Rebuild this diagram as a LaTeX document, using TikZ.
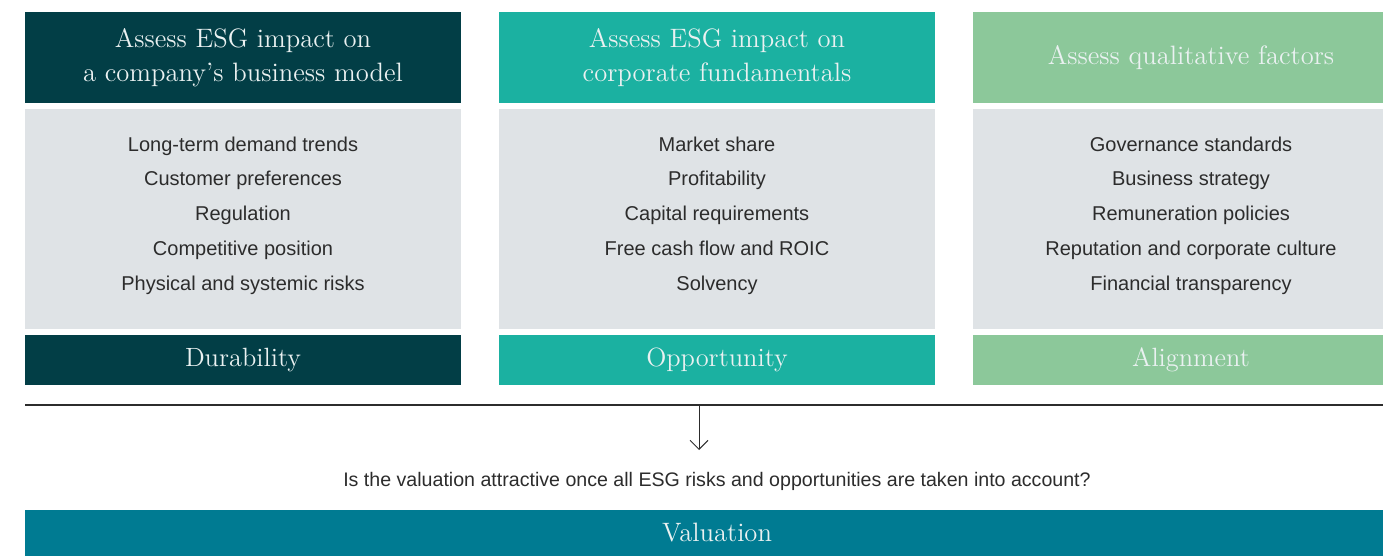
\documentclass[tikz,border=0pt]{standalone}
\usepackage{fontspec}
\setsansfont{Liberation Sans}
\usetikzlibrary{arrows.meta}

\definecolor{esgdark}{HTML}{023E46}
\definecolor{esgteal}{HTML}{1BB1A1}
\definecolor{esggreen}{HTML}{8CC89A}
\definecolor{esggrey}{HTML}{DFE3E6}
\definecolor{esgblue}{HTML}{007B92}
\definecolor{esgtext}{HTML}{2C2C2C}
\definecolor{esglight}{HTML}{EAF1F1}

\tikzset{
  head/.style={minimum width=218pt, minimum height=45.5pt, inner sep=0pt, align=center,
    text=esglight, font=\fontsize{13.3}{17}\selectfont},
  panel/.style={minimum width=218pt, minimum height=110pt, inner sep=0pt, fill=esggrey},
  list/.style={inner sep=0pt, align=center,
    text=esgtext, font=\sffamily\fontsize{10}{17.4}\selectfont},
  tag/.style={minimum width=218pt, minimum height=25pt, inner sep=0pt,
    text=esglight, font=\fontsize{13.2}{17}\selectfont}
}

\begin{document}
\begin{tikzpicture}[x=0.5pt, y=-0.5pt]
  %tikz  colonne ESG, valutazione
    \useasboundingbox (0,0) rectangle (1383,556);
    \clip (0,0) rectangle (1383,556);
    \coordinate(P) at (25,405);
    \coordinate(Q) at (1409,405);
    \coordinate(M) at (699,405);
    \coordinate(N) at (699,450);

    \node[head, fill=esgdark] (H1) at (243,57.5) {Assess ESG impact on\\a company’s business model};
    \node[head, fill=esgteal] (H2) at (717,57.5) {Assess ESG impact on\\corporate fundamentals};
    \node[head, fill=esggreen] (H3) at (1191,57.5) {Assess qualitative factors};

    \node[panel] (G1) at (243,219) {};
    \node[panel] (G2) at (717,219) {};
    \node[panel] (G3) at (1191,219) {};

    \node[list] (L1) at (243,215.5) {Long-term demand trends\\Customer preferences\\Regulation\\Competitive position\\Physical and systemic risks};
    \node[list] (L2) at (717,215.5) {Market share\\Profitability\\Capital requirements\\Free cash flow and ROIC\\Solvency};
    \node[list] (L3) at (1191,215.5) {Governance standards\\Business strategy\\Remuneration policies\\Reputation and corporate culture\\Financial transparency};

    \node[tag, fill=esgdark] (D1) at (243,360) {Durability};
    \node[tag, fill=esgteal] (D2) at (717,360) {Opportunity};
    \node[tag, fill=esggreen] (D3) at (1191,360) {Alignment};

    \draw[line width=0.6pt, esgtext](P) -- (Q);
    \draw[line width=0.5pt, esgtext, -{Straight Barb[length=4.5pt, width=9pt]}](M) -- (N);

    \node[text=esgtext, font=\sffamily\fontsize{9.8}{12}\selectfont] (V0) at (717,481)
      {Is the valuation attractive once all ESG risks and opportunities are taken into account?};
    \node[fill=esgblue, minimum width=692pt, minimum height=23pt, inner sep=0pt,
      text=esglight, font=\fontsize{13.3}{17}\selectfont] (V1) at (717,533) {Valuation};
  \end{tikzpicture}
\end{document}
